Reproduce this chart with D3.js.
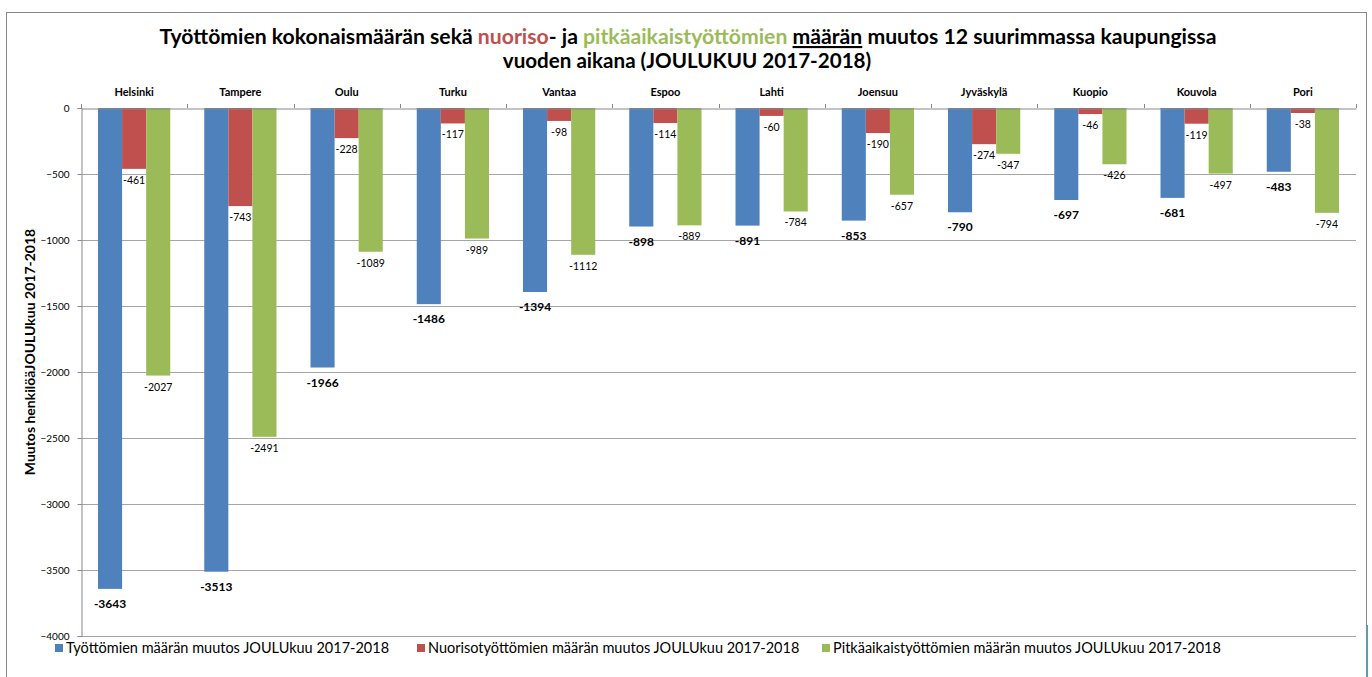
<!DOCTYPE html>
<html><head><meta charset="utf-8">
<script src="https://cdn.jsdelivr.net/npm/d3@7"></script>
<style>
body{margin:0;background:#fff;}
svg{font-family:Lato,"Open Sans",sans-serif;}
</style></head>
<body><svg id="c" width="1372" height="677"></svg>
<script>
const cities = ["Helsinki","Tampere","Oulu","Turku","Vantaa","Espoo","Lahti","Joensuu","Jyväskylä","Kuopio","Kouvola","Pori"];
const totalChange = [-3643,-3513,-1966,-1486,-1394,-898,-891,-853,-790,-697,-681,-483];
const youthChange = [-461,-743,-228,-117,-98,-114,-60,-190,-274,-46,-119,-38];
const longTermChange = [-2027,-2491,-1089,-989,-1112,-889,-784,-657,-347,-426,-497,-794];
const yTicks = [0,-500,-1000,-1500,-2000,-2500,-3000,-3500,-4000];
const seriesNames = ["Työttömien määrän muutos JOULUkuu 2017-2018","Nuorisotyöttömien määrän muutos JOULUkuu 2017-2018","Pitkäaikaistyöttömien määrän muutos JOULUkuu 2017-2018"];
const colors = ["#4F81BD","#C0504D","#9BBB59"];
const series = [totalChange, youthChange, longTermChange];

const svg = d3.select("#c");
// frame
svg.append("rect").attr("x",6.5).attr("y",12.5).attr("width",1360).attr("height",700)
  .attr("fill","none").attr("stroke","#888").attr("stroke-width",1);
svg.append("line").attr("x1",1367).attr("x2",1367).attr("y1",625).attr("y2",677)
  .attr("stroke","#5b9bb5").attr("stroke-width",2);

const L=81, R=1356, T=108, B=636;
const x = d3.scaleBand().domain(cities).range([L,R]).paddingInner(0).paddingOuter(0);
const inner = d3.scaleBand().domain([0,1,2]).range([17, x.bandwidth()-17]).padding(0);
const y = d3.scaleLinear().domain([-4000,0]).range([B,T]);

// gridlines
svg.append("g").selectAll("line").data(yTicks.filter(d=>d!==0 && d!==-4000)).join("line")
  .attr("x1",L).attr("x2",R).attr("y1",d=>Math.round(y(d))+0.5).attr("y2",d=>Math.round(y(d))+0.5)
  .attr("stroke","#a6a6a6").attr("stroke-width",1);
svg.append("line").attr("x1",L).attr("x2",R).attr("y1",B+0.5).attr("y2",B+0.5).attr("stroke","#a6a6a6");

// y axis
const ya = svg.append("g").attr("transform",`translate(${L+0.5},0)`)
  .call(d3.axisLeft(y).tickValues(yTicks).tickSize(4).tickPadding(8).tickFormat(d=>d===0?"0":d3.format("d")(d)));
ya.select(".domain").attr("stroke","#888");
ya.selectAll(".tick line").attr("stroke","#888");
ya.selectAll("text").attr("font-size",10).attr("fill","#000").attr("font-family","Lato");

// bars
series.forEach((s,si)=>{
  svg.append("g").selectAll("rect").data(s).join("rect")
    .attr("x",(d,i)=>x(cities[i])+inner(si))
    .attr("width",inner.bandwidth())
    .attr("y",y(0))
    .attr("height",d=>y(d)-y(0))
    .attr("fill",colors[si]);
});

// top axis (zero line)
const xa = svg.append("g").attr("transform",`translate(0,${T+0.5})`)
  .call(d3.axisTop(x).tickSize(0).tickPadding(13));
xa.select(".domain").attr("stroke","#888");
xa.selectAll("text").attr("font-size",11).attr("font-weight","bold").attr("fill","#000").attr("font-family","Lato");
svg.append("g").selectAll("line").data(cities.concat(["end"])).join("line")
  .attr("x1",(d,i)=>Math.round(L+i*x.bandwidth())+0.5).attr("x2",(d,i)=>Math.round(L+i*x.bandwidth())+0.5)
  .attr("y1",T-4).attr("y2",T).attr("stroke","#888");

// data labels
series.forEach((s,si)=>{
  svg.append("g").selectAll("text").data(s).join("text")
    .attr("x",(d,i)=>x(cities[i])+inner(si)+inner.bandwidth()/2)
    .attr("y",d=>y(d)+(si===0?19:15))
    .attr("text-anchor","middle")
    .attr("font-size",si===0?12:10.5)
    .attr("font-weight",si===0?"bold":"normal")
    .attr("fill","#000")
    .text(d=>d);
});

// title
const t1 = svg.append("text").attr("x",688).attr("y",44).attr("text-anchor","middle")
  .attr("font-size",21.2).attr("font-weight","bold").attr("fill","#000");
t1.append("tspan").text("Työttömien kokonaismäärän sekä ");
t1.append("tspan").attr("fill","#C0504D").text("nuoriso");
t1.append("tspan").text("- ja ");
t1.append("tspan").attr("fill","#9BBB59").text("pitkäaikaistyöttömien");
t1.append("tspan").text(" ");
t1.append("tspan").attr("text-decoration","underline").text("määrän");
t1.append("tspan").text(" muutos 12 suurimmassa kaupungissa");
svg.append("text").attr("x",687).attr("y",68).attr("text-anchor","middle")
  .attr("font-size",20.6).attr("font-weight","bold").attr("fill","#000")
  .text("vuoden aikana (JOULUKUU 2017-2018)");

// y axis title
svg.append("text").attr("transform","translate(35,352) rotate(-90)").attr("text-anchor","middle")
  .attr("font-size",14).attr("font-weight","bold").attr("fill","#000")
  .text("Muutos henkilöäJOULUkuu 2017-2018");

// legend
const legX = [55, 417, 822];
const lg = svg.append("g");
seriesNames.forEach((n,i)=>{
  lg.append("rect").attr("x",legX[i]).attr("y",644).attr("width",8).attr("height",8).attr("fill",colors[i]);
  lg.append("text").attr("x",legX[i]+11).attr("y",653).attr("font-size",14.5).attr("fill","#000").text(n);
});
</script></body></html>
